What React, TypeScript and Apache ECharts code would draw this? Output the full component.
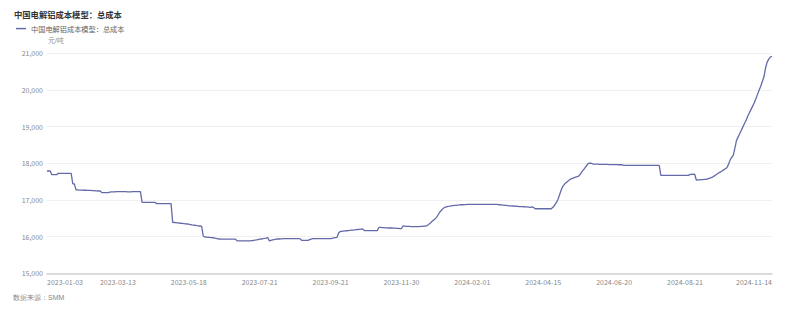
import React, { useEffect, useRef } from "react";
import * as echarts from "echarts";

const TITLE = "中国电解铝成本模型：总成本";
const SERIES_NAME = "中国电解铝成本模型：总成本";
const UNIT = "元/吨";
const SOURCE = "数据来源：SMM";

const START_DATE = "2023-01-03";
const END_DATE = "2024-11-14";
// exchange holidays (weekdays without quotes)
const HOLIDAYS = [
  "2023-01-23", "2023-01-24", "2023-01-25", "2023-01-26", "2023-01-27",
  "2023-04-05", "2023-05-01", "2023-05-02", "2023-05-03", "2023-06-22", "2023-06-23",
  "2023-09-29", "2023-10-02", "2023-10-03", "2023-10-04", "2023-10-05", "2023-10-06",
  "2024-01-01", "2024-02-09", "2024-02-12", "2024-02-13", "2024-02-14", "2024-02-15", "2024-02-16",
  "2024-04-04", "2024-04-05", "2024-05-01", "2024-05-02", "2024-05-03", "2024-06-10",
  "2024-09-16", "2024-09-17", "2024-10-01", "2024-10-02", "2024-10-03", "2024-10-04", "2024-10-07",
];

const TICK_LABELS = [
  "2023-01-03", "2023-03-13", "2023-05-18", "2023-07-21", "2023-09-21", "2023-11-30",
  "2024-02-01", "2024-04-15", "2024-06-20", "2024-08-21", "2024-11-14",
];

const Y_MIN = 15000;
const Y_MAX = 21000;
const Y_STEP = 1000;

const TOTAL_COST = [
  17790, 17790, 17790, 17690, 17690, 17690, 17690, 17725, 17725, 17725, 17725, 17725, 17725, 17725, 17725, 17725,
  17440, 17440,
  17275, 17275, 17270, 17270, 17270, 17265, 17265, 17260, 17260, 17260, 17255, 17255, 17250, 17250, 17245, 17245,
  17200, 17200, 17200, 17200, 17200,
  17215, 17220, 17220, 17220, 17225, 17225, 17225, 17225, 17225, 17225, 17225, 17220, 17220, 17220, 17225, 17225, 17225, 17230, 17230, 17230,
  16935, 16935, 16935, 16935, 16935, 16935, 16935, 16935, 16935,
  16900, 16900, 16900, 16900, 16900, 16900, 16900, 16900, 16900, 16900,
  16390, 16385, 16380, 16375, 16370, 16365, 16360, 16355, 16350, 16345, 16340, 16330, 16320, 16315, 16310, 16300, 16295, 16290, 16280,
  16010, 15990, 15985, 15980, 15980, 15975, 15970,
  15960, 15950, 15940, 15935, 15930,
  15930, 15930, 15930, 15930, 15930, 15930, 15930, 15930, 15930,
  15885, 15885, 15885, 15885, 15885, 15885, 15885, 15885, 15885,
  15890, 15895, 15905, 15910, 15920, 15930, 15935, 15945, 15950, 15960, 15975,
  15885, 15900, 15910, 15920,
  15930, 15935, 15935, 15940, 15940, 15945, 15945, 15945, 15945,
  15945, 15945, 15945, 15945, 15945, 15945, 15945,
  15900, 15900, 15900, 15900, 15900,
  15920, 15935,
  15945, 15945, 15945, 15945, 15945, 15945, 15945, 15945, 15945, 15945, 15945, 15945,
  15955, 15965, 15975, 15980,
  16100, 16140,
  16145, 16150, 16155, 16160, 16165, 16170, 16175, 16180, 16185, 16190, 16195, 16200, 16205, 16210,
  16165, 16165, 16165, 16165, 16165, 16165, 16165, 16165, 16165,
  16250, 16250, 16245, 16245, 16240, 16240, 16235, 16235,
  16235, 16230, 16230, 16225, 16225, 16220, 16220,
  16290, 16285, 16280, 16280, 16280, 16275, 16275, 16275, 16275, 16275, 16275, 16280, 16280, 16285, 16290,
  16300, 16340, 16370, 16420, 16450, 16490, 16540, 16610, 16680, 16730, 16775, 16800, 16815, 16825, 16830, 16840, 16845,
  16850, 16855, 16860, 16865, 16870, 16870, 16875, 16875, 16880, 16880,
  16880, 16880, 16880, 16880, 16880, 16880, 16880, 16880, 16880, 16880, 16880, 16880, 16880, 16880, 16880, 16880, 16880,
  16875, 16870, 16865, 16860, 16855, 16850, 16845, 16840, 16838, 16835,
  16830, 16828, 16825, 16822, 16820, 16818, 16815, 16812, 16810, 16805, 16800,
  16810, 16795,
  16760, 16760, 16760, 16760, 16760, 16760, 16760, 16760, 16760, 16760, 16760,
  16800, 16850, 16920, 17000, 17120, 17250, 17360, 17420, 17470, 17500, 17540, 17570, 17590, 17605, 17620, 17635, 17650, 17700, 17770, 17820, 17880, 17940, 18000, 18005, 18000, 17975,
  17975, 17975, 17975, 17970, 17970, 17970, 17970, 17970, 17970, 17965, 17965, 17965, 17965, 17965, 17965, 17960, 17960, 17960,
  17945, 17945, 17945, 17945, 17945, 17945, 17945, 17945, 17945, 17945, 17945, 17945, 17945, 17945, 17945, 17945, 17945, 17945, 17945, 17945, 17945, 17945, 17945,
  17670, 17670, 17670, 17670, 17670, 17670, 17670, 17670, 17670, 17670, 17670, 17670, 17670, 17670, 17670, 17670, 17670, 17670,
  17690, 17700, 17705, 17700,
  17545,
  17550, 17550, 17555, 17555, 17560, 17560,
  17575, 17590, 17605, 17620, 17650, 17680, 17710, 17740, 17765, 17790,
  17820, 17850, 17880, 17970, 18090, 18160, 18225, 18420, 18630, 18720, 18815, 18905, 19000, 19090, 19180, 19290,
  19380, 19470, 19560, 19650, 19760, 19880, 19990, 20100, 20230, 20360, 20600, 20760, 20840, 20900, 20920,
];

function tradingDays(start: string, end: string, holidays: string[]): string[] {
  const out: string[] = [];
  const skip = new Set(holidays);
  const [sy, sm, sd] = start.split("-").map(Number);
  const [ey, em, ed] = end.split("-").map(Number);
  let t = Date.UTC(sy, sm - 1, sd);
  const stop = Date.UTC(ey, em - 1, ed);
  while (t <= stop) {
    const d = new Date(t);
    const wd = d.getUTCDay();
    const s = d.toISOString().slice(0, 10);
    if (wd !== 0 && wd !== 6 && !skip.has(s)) out.push(s);
    t += 86400000;
  }
  return out;
}

const FONT = "'Noto Sans CJK SC', 'Noto Sans', sans-serif";
const LINE_COLOR = "#636aa8";

export default function App() {
  const ref = useRef<HTMLDivElement>(null);

  useEffect(() => {
    document.body.style.margin = "0";
    if (!ref.current) return;
    const chart = echarts.init(ref.current, undefined, { renderer: "svg" });
    const dates = tradingDays(START_DATE, END_DATE, HOLIDAYS);
    const tickSet = new Set(TICK_LABELS);

    chart.setOption({
      animation: false,
      textStyle: { fontFamily: FONT },
      title: {
        text: TITLE,
        left: 14,
        top: 10,
        padding: 0,
        textStyle: { fontSize: 8.3, fontWeight: "bold", color: "#333", fontFamily: FONT },
      },
      legend: {
        left: 16,
        top: 25,
        padding: 0,
        icon: "rect",
        itemWidth: 10,
        itemHeight: 1.5,
        textStyle: { fontSize: 7.2, color: "#666", fontFamily: FONT },
        data: [SERIES_NAME],
      },
      grid: { left: 47, right: 28, top: 53.3, bottom: 37.7 },
      xAxis: {
        type: "category",
        data: dates,
        boundaryGap: false,
        axisTick: { show: false },
        axisLine: { lineStyle: { color: "#cfcfd6", width: 1.5 } },
        axisLabel: {
          interval: (_i: number, v: string) => tickSet.has(v),
          fontSize: 7,
          color: "#888",
          margin: 5,
          alignMinLabel: "left",
          alignMaxLabel: "right",
          fontFamily: FONT,
        },
        splitLine: { show: false },
      },
      yAxis: {
        type: "value",
        min: Y_MIN,
        max: Y_MAX,
        interval: Y_STEP,
        axisLine: { show: false },
        axisTick: { show: false },
        axisLabel: {
          fontSize: 7,
          color: "#888",
          margin: 4,
          fontFamily: FONT,
          formatter: (v: number) => v.toLocaleString("en-US"),
        },
        splitLine: { lineStyle: { color: "#f0f0f0", width: 1 } },
      },
      graphic: [
        {
          type: "text",
          left: 48,
          top: 37,
          style: { text: UNIT, fontSize: 6.5, fill: "#888", font: `6.5px ${FONT}` },
        },
        {
          type: "text",
          left: 13,
          top: 294,
          style: { text: SOURCE, fontSize: 7, fill: "#888", font: `7px ${FONT}` },
        },
      ],
      series: [
        {
          name: SERIES_NAME,
          type: "line",
          data: TOTAL_COST,
          showSymbol: false,
          symbol: "none",
          lineStyle: { color: LINE_COLOR, width: 1.3 },
          itemStyle: { color: LINE_COLOR },
        },
      ],
    });
    return () => chart.dispose();
  }, []);

  return <div ref={ref} style={{ width: 800, height: 311 }} />;
}
